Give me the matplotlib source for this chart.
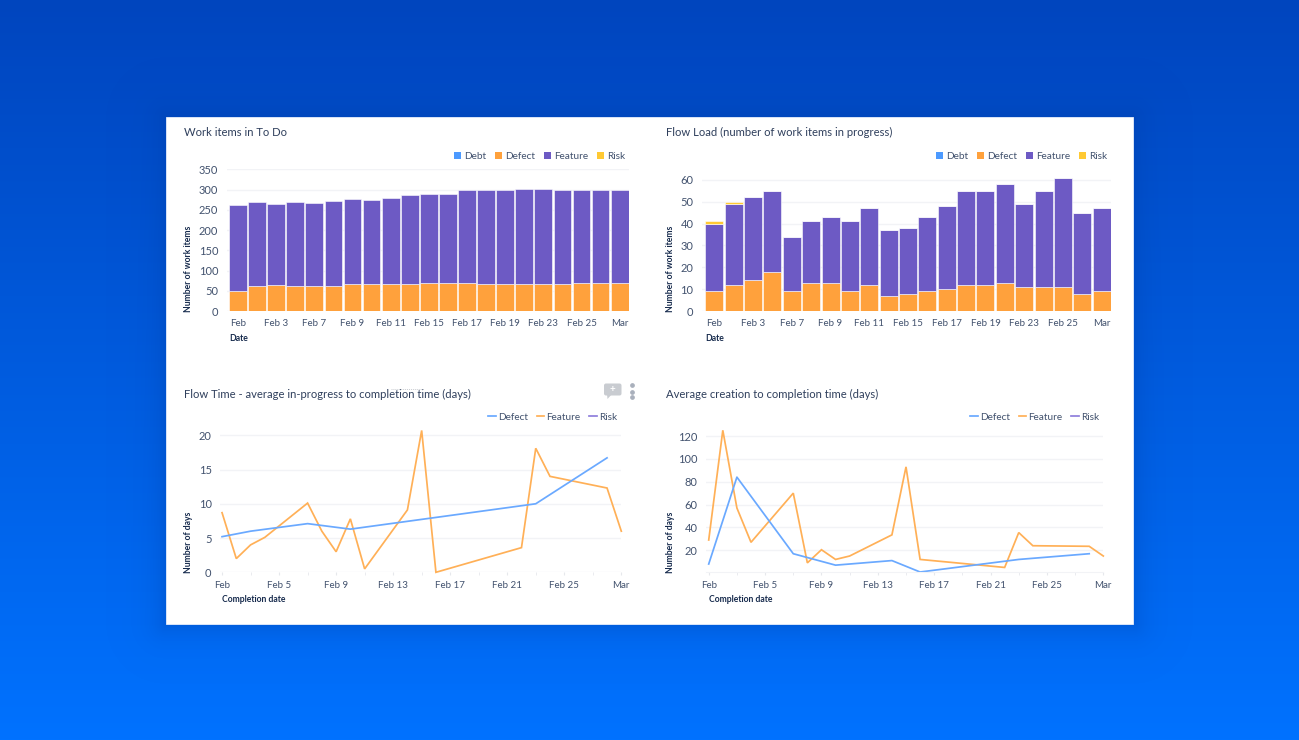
#!/usr/bin/env python3
"""Work item dashboard: two stacked bar panels and two line panels on a blue backdrop."""
import numpy as np
import matplotlib
matplotlib.use("Agg")
import matplotlib.pyplot as plt
from matplotlib.colors import to_rgb
from matplotlib.lines import Line2D
from matplotlib.patches import FancyBboxPatch, Polygon, Rectangle

W, H = 1299, 740
FONT = ["Lato", "DejaVu Sans"]
plt.rcParams["font.family"] = FONT

# stacked bars, one bar per snapshot
bar_labels = ["Feb", "Feb 3", "Feb 7", "Feb 9", "Feb 11", "Feb 15", "Feb 17", "Feb 19", "Feb 23", "Feb 25", "Mar"]
todo_defect = [50, 62, 64, 62, 61, 62, 66, 67, 67, 66, 70, 70, 70, 67, 67, 67, 67, 67, 70, 70, 70]
todo_feature = [211, 207, 201, 208, 206, 209, 211, 207, 211, 220, 220, 220, 230, 233, 233, 234, 235, 233, 230, 230, 228]
load_defect = [9, 12, 14, 18, 9, 13, 13, 9, 12, 7, 8, 9, 10, 12, 12, 13, 11, 11, 11, 8, 9]
load_feature = [31, 37, 38, 37, 25, 28, 30, 32, 35, 30, 30, 34, 38, 43, 43, 45, 38, 44, 50, 37, 38]
load_risk = [1, 1, 0, 0, 0, 0, 0, 0, 0, 0, 0, 0, 0, 0, 0, 0, 0, 0, 0, 0, 0]

# line panels, x is days since Feb 1
line_labels = ["Feb", "Feb 5", "Feb 9", "Feb 13", "Feb 17", "Feb 21", "Feb 25", "Mar"]
flow_feature_days = [0, 1, 2, 3, 6, 7, 8, 9, 10, 13, 14, 15, 21, 22, 23, 27, 28]
flow_feature = [8.7, 2, 4, 5.1, 10.1, 6, 3, 7.8, 0.5, 9.1, 20.7, 0, 3.6, 18.1, 14, 12.3, 6]
flow_defect_days = [0, 2, 6, 9, 22, 27]
flow_defect = [5.2, 6, 7.1, 6.3, 10, 16.7]
cycle_feature_days = [0, 1, 2, 3, 6, 7, 8, 9, 10, 13, 14, 15, 21, 22, 23, 27, 28]
cycle_feature = [29, 125, 57, 27, 70, 9, 20.5, 12, 15, 33.5, 93, 12, 5, 35.5, 24, 23.5, 15]
cycle_defect_days = [0, 2, 6, 9, 13, 15, 22, 27]
cycle_defect = [8, 84, 17, 7, 11, 1, 12, 17]

BLUE, ORANGE, PURPLE, YELLOW = "#4c9aff", "#ffa13c", "#6d5ac4", "#ffc933"
LINE_BLUE, LINE_ORANGE, LINE_PURPLE = "#6aa9ff", "#ffb057", "#8f7fdc"
TEXT = "#42526e"
TITLE = "#2f3f5c"
DARK = "#172b4d"
GRID = "#f2f3f6"


def panel(fig, left, right, top, bottom):
    ax = fig.add_axes([left / W, 1 - bottom / H, (right - left) / W, (bottom - top) / H])
    ax.patch.set_alpha(0)
    for s in ax.spines.values():
        s.set_visible(False)
    ax.set_axisbelow(True)
    ax.grid(axis="y", color=GRID, lw=1)
    ax.tick_params(axis="y", length=0, labelsize=8, labelcolor=TEXT, pad=6)
    return ax


def legend(ax, handles, anchor, hlen, pad, gap):
    leg = ax.legend(handles=handles, ncol=len(handles), loc="center right", frameon=False,
                    bbox_to_anchor=anchor, bbox_transform=ax.figure.transFigure, fontsize=7.2,
                    handlelength=hlen, handleheight=0.7, handletextpad=pad, columnspacing=gap,
                    borderpad=0, borderaxespad=0, labelcolor=TEXT)
    return leg


def bars(ax, defect, feature, risk=None):
    x = np.arange(len(defect))
    defect = np.array(defect)
    feature = np.array(feature)
    ax.bar(x, defect, 0.93, color=ORANGE, edgecolor="white", lw=0.4)
    ax.bar(x, feature, 0.93, bottom=defect, color=PURPLE, edgecolor="white", lw=0.4)
    if risk is not None:
        ax.bar(x, risk, 0.93, bottom=defect + feature, color=YELLOW, edgecolor="white", lw=0.4)
    ax.set_xticks(x[::2], bar_labels)
    ax.tick_params(axis="x", length=0, labelsize=7, labelcolor=TEXT, pad=5.5)


def lines(ax, fd, fv, dd, dv):
    ax.plot(fd, fv, color=LINE_ORANGE, lw=1.25, clip_on=False, solid_joinstyle="miter")
    ax.plot(dd, dv, color=LINE_BLUE, lw=1.25, clip_on=False)
    ax.set_xticks(range(0, 29, 4), line_labels)
    ax.set_xticks(range(0, 29, 2), minor=True)
    ax.tick_params(axis="x", which="major", length=2, color="#e6e8ec", labelsize=7, labelcolor=TEXT, pad=4.5)
    ax.tick_params(axis="x", which="minor", length=2, color="#e6e8ec")


fig = plt.figure(figsize=(W / 100, H / 100), dpi=100)

# backdrop, card and everything placed by pixel
bg = fig.add_axes([0, 0, 1, 1])
bg.axis("off")
top_c, bot_c = np.array(to_rgb("#0045be")), np.array(to_rgb("#0072ff"))
t = np.linspace(0, 1, H)[:, None]
bg.imshow((top_c * (1 - t) + bot_c * t)[:, None, :], extent=(0, W, H, 0), aspect="auto", zorder=0)

xx, yy = np.meshgrid(np.arange(W) + 0.5, np.arange(H) + 0.5)
dx = np.maximum(np.maximum(166 - xx, xx - 1133), 0)
dy = np.maximum(np.maximum(117 - yy, yy - 624), 0)
shadow = np.zeros((H, W, 4))
shadow[..., :3] = to_rgb("#003a9e")
shadow[..., 3] = 0.28 * np.exp(-np.hypot(dx, dy) / 14)
bg.imshow(shadow, extent=(0, W, H, 0), aspect="auto", zorder=1)
bg.set_xlim(0, W)
bg.set_ylim(H, 0)

bg.add_patch(Rectangle((166, 117), 967, 507, fc="white", ec="#e6eefc", lw=0.6, zorder=2))

for x, y, s in [(184.5, 132.5, "Work items in To Do"),
                (666.5, 132.5, "Flow Load (number of work items in progress)"),
                (184.5, 394, "Flow Time - average in-progress to completion time (days)"),
                (666.5, 394, "Average creation to completion time (days)")]:
    bg.text(x, y, s, fontsize=8.1, color=TITLE, va="center", zorder=3)

for x, y, s in [(229, 338.5, "Date"), (705, 338.5, "Date"), (222.5, 599.5, "Completion date"), (709.5, 599.5, "Completion date")]:
    bg.text(x, y, s, fontsize=6.2, fontweight="bold", color=DARK, va="center", zorder=3)
for x, y, s in [(188.5, 269, "Number of work items"), (671, 269, "Number of work items"),
                (188.5, 542, "Number of days"), (671, 542, "Number of days")]:
    bg.text(x, y, s, fontsize=6.2, fontweight="bold", color=DARK, rotation=90, ha="center", va="center", zorder=3)

# comment bubble and menu dots on the flow time panel
bg.add_patch(FancyBboxPatch((604, 383.5), 17.5, 12, boxstyle="round,pad=0,rounding_size=2", fc="#c9ccd1", ec="none", zorder=3))
bg.add_patch(Polygon([(607, 394), (612, 394), (607.5, 399)], fc="#c9ccd1", ec="none", zorder=3))
bg.text(612.8, 389.5, "+", fontsize=7, fontweight="bold", color="white", ha="center", va="center", zorder=4)
bg.plot([632, 632, 632], [385, 391.5, 397], "o", ms=2.4, color="#a9b0bc", zorder=3)
bg.plot([391, 423], [389, 389], color="#c9ccd1", lw=0.7, ls=(0, (1, 1)), zorder=3)

# top left
ax = panel(fig, 226.5, 629.2, 169.3, 311)
bars(ax, todo_defect, todo_feature)
ax.set_xlim(-0.6, 20.5)
ax.set_ylim(0, 350)
ax.set_yticks(range(0, 351, 50))

# top right
ax = panel(fig, 701.7, 1111.4, 175.6, 311)
bars(ax, load_defect, load_feature, load_risk)
ax.set_xlim(-0.65, 20.5)
ax.set_ylim(0, 62)
ax.set_yticks(range(0, 61, 10))

# bottom left
ax = panel(fig, 219.9, 621.3, 428.4, 572.3)
lines(ax, flow_feature_days, flow_feature, flow_defect_days, flow_defect)
ax.set_xlim(-0.15, 28)
ax.set_ylim(0, 21)
ax.set_yticks(range(0, 21, 5))

# bottom right
ax = panel(fig, 705.9, 1103.3, 428, 572.3)
lines(ax, cycle_feature_days, cycle_feature, cycle_defect_days, cycle_defect)
ax.set_xlim(-0.2, 28)
ax.set_ylim(0.75, 127)
ax.set_yticks(range(20, 121, 20))
ax.spines["bottom"].set_visible(True)
ax.spines["bottom"].set_color(GRID)

# legends are anchored in figure fractions
def sq(c, label):
    return Rectangle((0, 0), 1, 1, fc=c, ec="none", label=label)


def ln(c, label):
    return Line2D([0], [0], color=c, lw=1.25, label=label)


bar_handles = lambda: [sq(BLUE, "Debt"), sq(ORANGE, "Defect"), sq(PURPLE, "Feature"), sq(YELLOW, "Risk")]
line_handles = lambda: [ln(LINE_BLUE, "Defect"), ln(LINE_ORANGE, "Feature"), ln(LINE_PURPLE, "Risk")]
axes = fig.axes
legend(axes[1], bar_handles(), (625 / W, 1 - 156.8 / H), 0.7, 0.3, 0.88)
legend(axes[2], bar_handles(), (1107 / W, 1 - 156.8 / H), 0.7, 0.3, 0.88)
legend(axes[3], line_handles(), (617 / W, 1 - 417.5 / H), 0.75, 0.22, 0.88)
legend(axes[4], line_handles(), (1099 / W, 1 - 417.5 / H), 0.75, 0.22, 0.88)

fig.savefig("out.png", dpi=100)
